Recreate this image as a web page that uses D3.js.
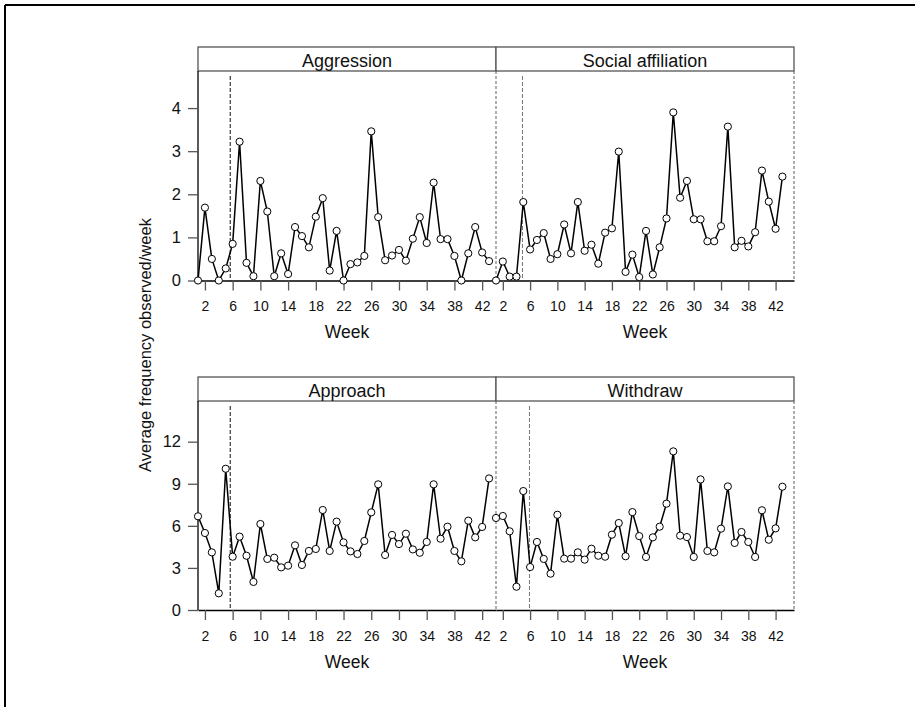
<!DOCTYPE html>
<html>
<head>
<meta charset="utf-8">
<script src="https://cdn.jsdelivr.net/npm/d3@7"></script>
<style>
  body { margin: 0; background: #fff; }
  text { font-family: "Liberation Sans", Arial, sans-serif; fill: #111; }
</style>
</head>
<body>
<svg id="chart" width="915" height="707"></svg>
<script>
// Weeks observed
const weeks = d3.range(1, 44);
const xTickValues = [2, 6, 10, 14, 18, 22, 26, 30, 34, 38, 42];

// Average frequency observed per week
const aggression = [0, 1.69, 0.5, 0, 0.28, 0.85, 3.22, 0.41, 0.1, 2.31, 1.6, 0.1, 0.63, 0.15, 1.24, 1.03,
    0.77, 1.48, 1.91, 0.23, 1.15, 0, 0.38, 0.42, 0.57, 3.46, 1.47, 0.47, 0.58, 0.71, 0.46, 0.97,
    1.47, 0.87, 2.27, 0.96, 0.96, 0.57, 0, 0.63, 1.24, 0.65, 0.45];
const socialAffiliation = [0, 0.44, 0.09, 0.09, 1.82, 0.72, 0.94, 1.1, 0.5, 0.61, 1.3, 0.63, 1.82, 0.69,
    0.83, 0.39, 1.11, 1.21, 2.99, 0.2, 0.6, 0.08, 1.15, 0.14, 0.77, 1.44, 3.9, 1.92, 2.31, 1.42,
    1.42, 0.91, 0.91, 1.26, 3.57, 0.77, 0.92, 0.79, 1.12, 2.55, 1.83, 1.2, 2.41];
const approach = [6.68, 5.49, 4.11, 1.19, 10.07, 3.8, 5.23, 3.87, 2.0, 6.13, 3.64, 3.73, 3.04, 3.16,
    4.61, 3.21, 4.21, 4.35, 7.13, 4.21, 6.3, 4.82, 4.18, 3.99, 4.92, 6.96, 8.96, 3.92, 5.35, 4.7,
    5.44, 4.32, 4.08, 4.85, 8.96, 5.08, 5.94, 4.21, 3.47, 6.37, 5.18, 5.92, 9.38];
const withdraw = [6.56, 6.7, 5.61, 1.66, 8.48, 3.06, 4.85, 3.64, 2.59, 6.79, 3.66, 3.66, 4.11, 3.59,
    4.37, 3.87, 3.8, 5.37, 6.2, 3.83, 6.98, 5.27, 3.78, 5.18, 5.94, 7.58, 11.31, 5.3, 5.2, 3.78,
    9.31, 4.21, 4.11, 5.8, 8.81, 4.78, 5.56, 4.85, 3.78, 7.11, 5.01, 5.82, 8.79];

// Week at which the phase changes (dashed line) in each panel
const phaseWeek = [5.65, 4.88, 5.65, 5.91];
const titles = ["Aggression", "Social affiliation", "Approach", "Withdraw"];
const seriesList = [aggression, socialAffiliation, approach, withdraw];
const topYTicks = [0, 1, 2, 3, 4];
const bottomYTicks = [0, 3, 6, 9, 12];

const svg = d3.select('#chart');

// Outer frame (top and left edges)
svg.append('line').attr('x1', 5).attr('x2', 915).attr('y1', 5).attr('y2', 5)
    .attr('stroke', '#000').attr('stroke-width', 2);
svg.append('line').attr('x1', 5).attr('x2', 5).attr('y1', 5).attr('y2', 707)
    .attr('stroke', '#000').attr('stroke-width', 2);

const cols = [{ x0: 198, x1: 496, xmax: 44.0 }, { x0: 496, x1: 794, xmax: 44.7 }];
const rows = [
    { stripTop: 47, top: 71, bottom: 280.5, ymax: 4.86, ticks: topYTicks },
    { stripTop: 377, top: 401, bottom: 610, ymax: 14.9, ticks: bottomYTicks }
];

for (let p = 0; p < 4; p++) {
    const col = cols[p % 2];
    const row = rows[Math.floor(p / 2)];
    const left = (p % 2) == 0;
    const values = seriesList[p];

    const x = d3.scaleLinear().domain([1, col.xmax]).range([col.x0, col.x1]);
    const y = d3.scaleLinear().domain([0, row.ymax]).range([row.bottom, row.top]);

    const g = svg.append('g');

    // Strip with title
    g.append('rect')
        .attr('x', col.x0).attr('y', row.stripTop)
        .attr('width', col.x1 - col.x0).attr('height', row.top - row.stripTop)
        .attr('fill', '#fff').attr('stroke', '#555').attr('stroke-width', 1.3);
    g.append('text')
        .attr('x', (col.x0 + col.x1) / 2).attr('y', row.stripTop + 19.5)
        .attr('text-anchor', 'middle').attr('font-size', 18)
        .text(titles[p]);

    // Panel borders
    if (left) {
        g.append('line').attr('x1', col.x0).attr('x2', col.x0)
            .attr('y1', row.top).attr('y2', row.bottom)
            .attr('stroke', '#000').attr('stroke-width', 1.3);
    }
    g.append('line').attr('x1', col.x1).attr('x2', col.x1)
        .attr('y1', row.top).attr('y2', row.bottom)
        .attr('stroke', '#777').attr('stroke-width', 1.2)
        .attr('stroke-dasharray', '3,2');

    // Phase change line
    g.append('line')
        .attr('x1', x(phaseWeek[p])).attr('x2', x(phaseWeek[p]))
        .attr('y1', row.top + 5).attr('y2', row.bottom)
        .attr('stroke', left ? '#111' : '#777').attr('stroke-width', 1)
        .attr('stroke-dasharray', '4,2');

    // X axis
    const xAxis = g.append('g')
        .attr('transform', `translate(0,${row.bottom})`)
        .call(d3.axisBottom(x).tickValues(xTickValues).tickSize(10).tickPadding(11).tickSizeOuter(0));
    xAxis.select('.domain').attr('stroke', '#000').attr('stroke-width', 1.3);
    xAxis.selectAll('.tick line').attr('stroke', '#555').attr('stroke-width', 1.3);
    xAxis.selectAll('.tick text').attr('font-size', 14)
        .style('font-family', '"Liberation Sans", Arial, sans-serif').attr('fill', '#111');

    g.append('text')
        .attr('x', (col.x0 + col.x1) / 2).attr('y', row.bottom + 57.5)
        .attr('text-anchor', 'middle').attr('font-size', 17.5)
        .text('Week');

    // Y axis on the left panels only
    if (left) {
        const yAxis = g.append('g')
            .attr('transform', `translate(${col.x0},0)`)
            .call(d3.axisLeft(y).tickValues(row.ticks).tickFormat(d3.format('d'))
                .tickSize(10).tickPadding(7).tickSizeOuter(0));
        yAxis.select('.domain').remove();
        yAxis.selectAll('.tick line').attr('stroke', '#555').attr('stroke-width', 1.3);
        yAxis.selectAll('.tick text').attr('font-size', 16.5)
            .style('font-family', '"Liberation Sans", Arial, sans-serif').attr('fill', '#111');
    }

    // Line and points
    const lineFunction = d3.line()
        .x((d, i) => x(weeks[i]))
        .y(d => y(d));
    g.append('path')
        .attr('d', lineFunction(values))
        .attr('fill', 'none').attr('stroke', '#000').attr('stroke-width', 1.5);

    g.selectAll('circle').data(values).enter().append('circle')
        .attr('cx', (d, i) => x(weeks[i]))
        .attr('cy', d => y(d))
        .attr('r', 3.6)
        .attr('fill', '#fff').attr('stroke', '#000').attr('stroke-width', 1);
}

// Shared y label
svg.append('text')
    .attr('transform', 'translate(151,345) rotate(-90)')
    .attr('text-anchor', 'middle').attr('font-size', 16.5)
    .text('Average frequency observed/week');
</script>
</body>
</html>
